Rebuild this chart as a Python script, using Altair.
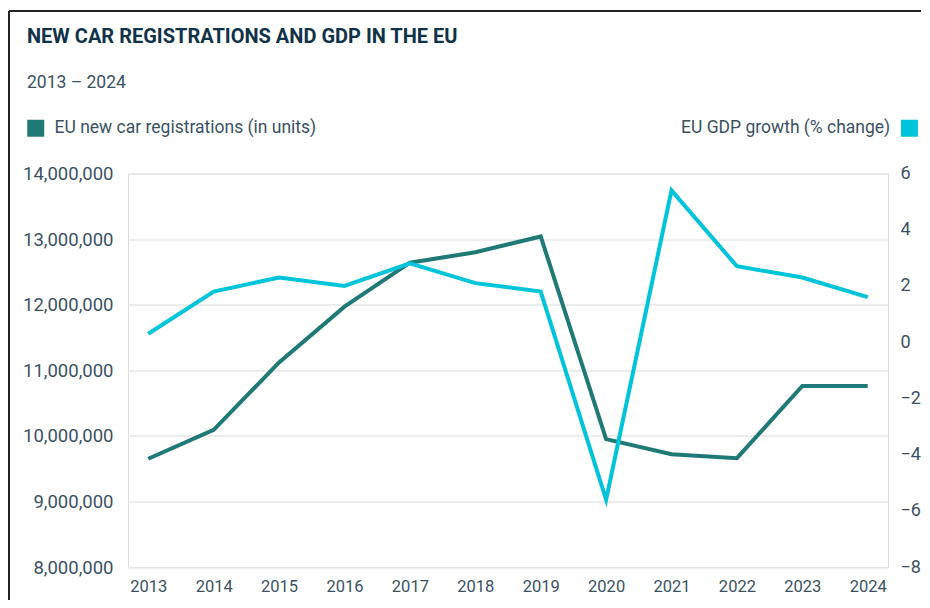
import altair as alt
import pandas as pd

years = ["2013", "2014", "2015", "2016", "2017", "2018", "2019", "2020", "2021", "2022", "2023", "2024"]
cars = [9650000, 10090000, 11120000, 11970000, 12640000, 12800000, 13040000, 9950000, 9720000, 9660000, 10760000, 10760000]
gdp = [0.3, 1.8, 2.3, 2.0, 2.8, 2.1, 1.8, -5.6, 5.4, 2.7, 2.3, 1.6]
car_label = "EU new car registrations (in units)"
gdp_label = "EU GDP growth (% change)"
title_text = "NEW CAR REGISTRATIONS AND GDP IN THE EU"
subtitle_text = "2013 – 2024"
left_ticks = [8000000, 9000000, 10000000, 11000000, 12000000, 13000000, 14000000]
right_ticks = [-8, -6, -4, -2, 0, 2, 4, 6]

df = pd.DataFrame({"year": years, "cars": cars, "gdp": gdp,
                   "s_car": car_label, "s_gdp": gdp_label})

FONT = "Roboto"
TEXT = "#3b5163"
TITLE = "#0f3348"
TEAL = "#1f7a77"
CYAN = "#00c4da"
GRID = "#e6e6e6"

x = alt.X("year:O", scale=alt.Scale(type="point", padding=0.31),
          axis=alt.Axis(title=None, labelAngle=0, ticks=False, domain=False,
                        labelFontSize=16.5, labelColor=TEXT, labelPadding=11,
                        labelFont=FONT, grid=False))

cars_line = alt.Chart(df).mark_line(strokeWidth=4).encode(
    x=x,
    y=alt.Y("cars:Q", scale=alt.Scale(domain=[8000000, 14000000], nice=False, zero=False),
            axis=alt.Axis(title=None, values=left_ticks, format=",.0f", ticks=False,
                          domain=False, labelFontSize=18.5, labelColor=TEXT, labelFont=FONT,
                          labelPadding=15, grid=True, gridColor=GRID, gridWidth=1.5,
                          orient="left")),
    color=alt.Color("s_car:N", scale=alt.Scale(range=[TEAL]),
                    legend=alt.Legend(title=None, orient="none", legendX=-101, legendY=-54,
                                      symbolType="square", symbolSize=289, symbolStrokeWidth=0,
                                      symbolFillColor=TEAL, labelLimit=0,
                                      labelFontSize=17.5, labelColor=TEXT, labelFont=FONT,
                                      labelOffset=10, padding=0)),
)

gdp_line = alt.Chart(df).mark_line(strokeWidth=4).encode(
    x=x,
    y=alt.Y("gdp:Q", scale=alt.Scale(domain=[-8, 6], nice=False, zero=False),
            axis=alt.Axis(title=None, values=right_ticks, format="d", ticks=False,
                          domain=False, labelFontSize=18, labelColor=TEXT, labelFont=FONT,
                          labelPadding=12, grid=False, orient="right")),
    color=alt.Color("s_gdp:N", scale=alt.Scale(range=[CYAN]),
                    legend=alt.Legend(title=None, orient="none", legendX=772.7, legendY=-54,
                                      symbolType="square", symbolSize=289, symbolStrokeWidth=0,
                                      symbolFillColor=CYAN, labelLimit=0,
                                      labelFontSize=17.5, labelColor=TEXT, labelFont=FONT,
                                      labelAlign="right", labelOffset={"expr": "-28"},
                                      padding=0)),
)

frame_df = pd.DataFrame({"k": [0]})
top_border = alt.Chart(frame_df).mark_rule(color="#222222", strokeWidth=2).encode(
    x=alt.value(-119), x2=alt.value(793), y=alt.value(-162.5))
left_border = alt.Chart(frame_df).mark_rule(color="#222222", strokeWidth=2).encode(
    x=alt.value(-119), y=alt.value(-162.5), y2=alt.value(440))

title_mark = alt.Chart(frame_df).mark_text(
    text=title_text, align="left", baseline="alphabetic", font=FONT,
    fontSize=20, fontWeight="bold", color=TITLE
).encode(x=alt.value(-101), y=alt.value(-130.5))

subtitle_mark = alt.Chart(frame_df).mark_text(
    text=subtitle_text, align="left", baseline="alphabetic", font=FONT,
    fontSize=17.5, color=TEXT
).encode(x=alt.value(-101), y=alt.value(-85.5))

chart = alt.layer(top_border, left_border, title_mark, subtitle_mark,
                  cars_line, gdp_line).resolve_scale(
    y="independent", color="independent"
).properties(
    width=760, height=393.5,
    padding={"left": 120, "top": 165.5, "right": 34, "bottom": 33},
    autosize=alt.AutoSizeParams(type="none"),
).configure_view(strokeWidth=0).configure(background="white")

chart.save("out.html", embed_options={"renderer": "svg", "actions": False})
